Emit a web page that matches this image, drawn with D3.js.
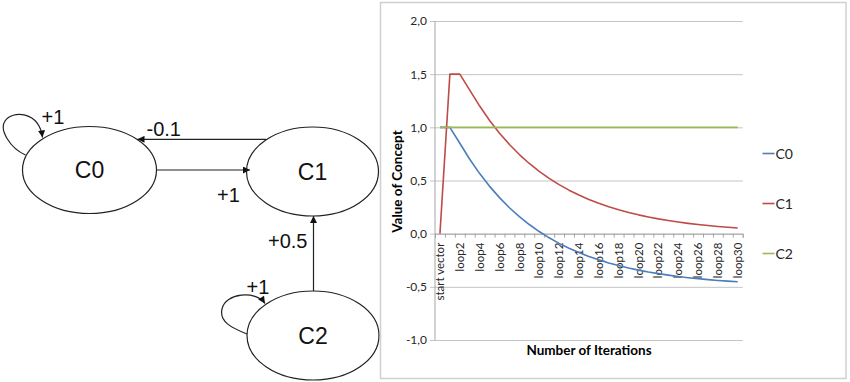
<!DOCTYPE html>
<html>
<head>
<meta charset="utf-8">
<script src="https://cdn.jsdelivr.net/npm/d3@7"></script>
<style>
  body { margin: 0; background: #fff; }
  svg { display: block; }
  .diagram text { font-family: "Liberation Sans", Arial, sans-serif; fill: #111; }
  .chart text { font-family: Lato, "Open Sans", sans-serif; fill: #262626; }
</style>
</head>
<body>
<svg width="850" height="382"></svg>
<script>
// categories and series
const categories = ['start vector'].concat(d3.range(1, 31).map(i => 'loop' + i));
const labelled = categories.filter((c, i) => i % 2 === 0);
const c0 = [1, 1, 0.85, 0.70, 0.565, 0.445, 0.339, 0.244, 0.160, 0.086, 0.020,
  -0.039, -0.091, -0.137, -0.178, -0.214, -0.246, -0.275, -0.300, -0.323, -0.343,
  -0.361, -0.376, -0.390, -0.403, -0.414, -0.423, -0.432, -0.440, -0.446, -0.452];
const c1 = [0, 1.5, 1.5, 1.35, 1.2, 1.065, 0.945, 0.839, 0.744, 0.660, 0.586,
  0.520, 0.461, 0.409, 0.363, 0.322, 0.286, 0.254, 0.225, 0.200, 0.177,
  0.157, 0.139, 0.124, 0.110, 0.097, 0.086, 0.077, 0.068, 0.060, 0.054];
const c2 = categories.map(() => 1);
const yTicks = [-1, -0.5, 0, 0.5, 1, 1.5, 2];

const seriesNames = ['C0', 'C1', 'C2'];
const seriesColors = ['#4a7ebb', '#be4b48', '#98b954'];
const series = [c0, c1, c2];

// concept map nodes and edges
const nodes = [
  {id: 'C0', cx: 89.5, cy: 170, rx: 67, ry: 43.5},
  {id: 'C1', cx: 312.5, cy: 171.5, rx: 66, ry: 44.5},
  {id: 'C2', cx: 313, cy: 335.5, rx: 66, ry: 44.5}
];
const edges = [
  {d: 'M266,139.3 L137.5,139.3', label: '-0.1', lx: 146.5, ly: 136},
  {d: 'M156,170 L250,170', label: '+1', lx: 217, ly: 201.5},
  {d: 'M313.5,291 L313.5,216', label: '+0.5', lx: 268, ly: 248},
  {d: 'M25.5,155 C10,148 -1,130 5,121 C12,110 39,111 42.5,137.5', label: '+1', lx: 41.5, ly: 123.5},
  {d: 'M247,334 C232,328 219,322 222,309 C225,293 256,290 265,303.5', label: '+1', lx: 246.5, ly: 293.5}
];

const svg = d3.select('svg');

// ---------- left: concept diagram ----------
svg.append('defs').append('marker')
    .attr('id', 'arrow')
    .attr('viewBox', '0 0 10 10')
    .attr('refX', 10).attr('refY', 5)
    .attr('markerWidth', 8).attr('markerHeight', 7)
    .attr('markerUnits', 'userSpaceOnUse')
    .attr('orient', 'auto')
  .append('path')
    .attr('d', 'M0,0 L10,5 L0,10 z')
    .attr('fill', '#111');

const diag = svg.append('g').attr('class', 'diagram');

diag.selectAll('path.edge')
  .data(edges)
  .enter().append('path')
    .attr('class', 'edge')
    .attr('d', d => d.d)
    .attr('fill', 'none')
    .attr('stroke', '#222')
    .attr('stroke-width', 1.2)
    .attr('marker-end', 'url(#arrow)');

diag.selectAll('ellipse')
  .data(nodes)
  .enter().append('ellipse')
    .attr('cx', d => d.cx).attr('cy', d => d.cy)
    .attr('rx', d => d.rx).attr('ry', d => d.ry)
    .attr('fill', 'none')
    .attr('stroke', '#222')
    .attr('stroke-width', 1.2);

diag.selectAll('text.node')
  .data(nodes)
  .enter().append('text')
    .attr('class', 'node')
    .attr('x', d => d.cx).attr('y', d => d.cy)
    .attr('dy', '0.36em')
    .attr('text-anchor', 'middle')
    .style('font-size', '23px')
    .text(d => d.id);

diag.selectAll('text.weight')
  .data(edges)
  .enter().append('text')
    .attr('class', 'weight')
    .attr('x', d => d.lx).attr('y', d => d.ly)
    .style('font-size', '20px')
    .text(d => d.label);

// ---------- right: line chart ----------
const chart = svg.append('g').attr('class', 'chart');

chart.append('rect')
    .attr('x', 380.5).attr('y', 2.5)
    .attr('width', 465.5).attr('height', 376)
    .attr('fill', '#fff')
    .attr('stroke', '#d0d0d0')
    .attr('stroke-width', 1.5);

const plotLeft = 435, plotRight = 742.7, plotTop = 21, plotBottom = 340;

const x = d3.scaleBand()
    .domain(categories)
    .range([plotLeft, plotRight]);

const xi = d3.scaleLinear()
    .domain([0, categories.length])
    .range([plotLeft, plotRight]);

const y = d3.scaleLinear()
    .domain([-1, 2])
    .range([plotBottom, plotTop]);

const fmt = d => d3.format('.1f')(d).replace('.', ',').replace('−', '-');

// gridlines + y labels
chart.append('g')
    .attr('transform', `translate(${plotRight},0)`)
    .call(d3.axisLeft(y).tickValues(yTicks).tickSize(plotRight - plotLeft + 5).tickPadding(3).tickFormat(fmt))
    .call(g => g.select('.domain').remove())
    .call(g => g.selectAll('.tick line').attr('stroke', '#c4c4c4'))
    .call(g => g.selectAll('.tick text').style('font-size', '12px'));

// y axis line
chart.append('line')
    .attr('x1', plotLeft).attr('x2', plotLeft)
    .attr('y1', plotTop).attr('y2', plotBottom)
    .attr('stroke', '#a6a6a6');

// x axis line and category ticks at y = 0
chart.append('g')
    .attr('transform', `translate(0,${y(0)})`)
    .call(d3.axisBottom(xi).tickValues(d3.range(categories.length + 1)).tickSize(4).tickSizeOuter(4).tickFormat(''))
    .call(g => g.select('.domain').attr('stroke', '#a6a6a6'))
    .call(g => g.selectAll('.tick line').attr('stroke', '#a6a6a6'));

// x labels, rotated
chart.append('g')
    .attr('transform', `translate(0,${y(0)})`)
    .call(d3.axisBottom(x).tickValues(labelled).tickSize(0))
    .call(g => g.select('.domain').remove())
    .call(g => g.selectAll('.tick text')
      .attr('transform', 'rotate(-90)')
      .attr('x', -9).attr('y', 0).attr('dy', '0.36em')
      .attr('text-anchor', 'end')
      .style('font-size', '11.5px'));

// series lines
const line = d3.line()
    .x((d, i) => x(categories[i]) + x.bandwidth() / 2)
    .y(d => y(d));

chart.selectAll('path.series')
  .data(series)
  .enter().append('path')
    .attr('class', 'series')
    .attr('d', line)
    .attr('fill', 'none')
    .attr('stroke', (d, i) => seriesColors[i])
    .attr('stroke-width', 1.6)
    .attr('stroke-linejoin', 'round');

// axis titles
chart.append('text')
    .attr('transform', `translate(402,${y(0.49)}) rotate(-90)`)
    .attr('text-anchor', 'middle')
    .style('font-size', '13.5px')
    .style('font-weight', 'bold')
    .style('fill', '#000')
    .text('Value of Concept');

chart.append('text')
    .attr('x', 589).attr('y', 355)
    .attr('text-anchor', 'middle')
    .style('font-size', '13.5px')
    .style('font-weight', 'bold')
    .style('fill', '#000')
    .text('Number of Iterations');

// legend
const legend = chart.selectAll('g.legend')
  .data(seriesNames)
  .enter().append('g')
    .attr('class', 'legend')
    .attr('transform', (d, i) => `translate(762.5,${153.5 + i * 50})`);

legend.append('line')
    .attr('x1', 0).attr('x2', 12)
    .attr('stroke', (d, i) => seriesColors[i])
    .attr('stroke-width', 1.6);

legend.append('text')
    .attr('x', 13).attr('dy', '0.36em')
    .style('font-size', '14px')
    .text(d => d);
</script>
</body>
</html>
